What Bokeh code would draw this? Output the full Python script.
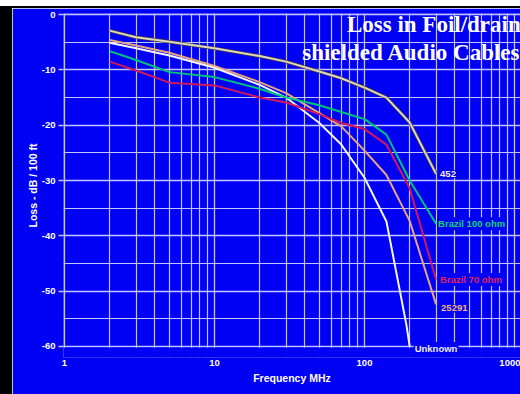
from bokeh.plotting import figure
from bokeh.models import FixedTicker, Range1d, Label, Spacer, BoxAnnotation
from bokeh.layouts import column, row
from bokeh.embed import file_html
from bokeh.resources import INLINE

# ---- data ----
freqs = [2, 3, 5, 10, 20, 30, 50, 70, 100, 140, 200, 300]
loss_452 = [-2.9, -4.1, -4.9, -6.1, -7.5, -8.5, -10.3, -11.5, -13.2, -15.0, -19.5, -28.8]
loss_brazil100 = [-6.6, -8.2, -10.4, -11.3, -13.4, -15.0, -16.4, -17.6, -18.9, -21.7, -30.0, -37.8]
loss_brazil70 = [-8.5, -10.1, -12.3, -12.8, -15.0, -15.9, -18.0, -19.6, -20.7, -23.5, -31.4, -47.9]
loss_25291 = [-4.6, -5.6, -6.9, -9.3, -12.2, -14.2, -17.8, -20.2, -24.6, -29.0, -37.3, -52.4]
freqs_unknown = [2, 3, 5, 10, 20, 30, 50, 70, 100, 140, 190, 200]
loss_unknown = [-5.1, -6.1, -7.4, -9.6, -12.7, -15.0, -19.6, -23.5, -29.5, -37.4, -56.0, -60.0]

series_names = ["452", "Brazil 100 ohm", "Brazil 70 ohm", "25291", "Unknown"]

x_major = [1, 10, 100, 1000]
x_minor = [2, 3, 4, 5, 6, 7, 8, 9, 20, 30, 40, 50, 60, 70, 80, 90,
           200, 300, 400, 500, 600, 700, 800, 900]
y_major = [0, -10, -20, -30, -40, -50, -60]
y_minor = [-5, -15, -25, -35, -45, -55]
x_tick_labels = ["1", "10", "100", "1000"]
y_tick_labels = ["0", "-10", "-20", "-30", "-40", "-50", "-60"]

title_lines = ["Loss in Foil/drain", "shielded Audio Cables"]

# ---- styling ----
BG = "#0000f5"
GRID = "#c4c4ff"
SANS = "Liberation Sans"

p = figure(width=508, height=386, x_axis_type="log",
           x_range=Range1d(0.985, 1096), y_range=Range1d(-62, 0.2),
           output_backend="svg", toolbar_location=None,
           min_border_left=51, min_border_right=0,
           min_border_top=5, min_border_bottom=37)
p.background_fill_color = BG
p.border_fill_color = BG
p.outline_line_color = None

xt = FixedTicker(ticks=x_major, minor_ticks=x_minor)
yt = FixedTicker(ticks=y_major, minor_ticks=y_minor)
p.xaxis.ticker = xt
p.yaxis.ticker = yt
p.xgrid.ticker = xt
p.ygrid.ticker = yt

for g in (p.xgrid, p.ygrid):
    g.grid_line_color = GRID
    g.grid_line_width = 1.3
    g.minor_grid_line_color = GRID
    g.minor_grid_line_width = 1.2

p.xaxis.major_label_overrides = {v: t for v, t in zip(x_major, x_tick_labels)}
p.yaxis.major_label_overrides = {v: t for v, t in zip(y_major, y_tick_labels)}

for ax in (p.xaxis, p.yaxis):
    ax.axis_line_color = None
    ax.major_tick_line_color = GRID
    ax.major_tick_line_width = 1.5
    ax.minor_tick_out = 0
    ax.minor_tick_in = 0
    ax.major_tick_in = 0
    ax.major_label_text_color = "white"
    ax.major_label_text_font = SANS
    ax.major_label_text_font_style = "bold"
    ax.major_label_text_font_size = "9.5px"
    ax.axis_label_text_color = "white"
    ax.axis_label_text_font = SANS
    ax.axis_label_text_font_style = "bold"
    ax.axis_label_text_font_size = "10.5px"

p.xaxis.major_tick_out = 0
p.xaxis.major_label_standoff = 2
p.xaxis.axis_label = "Frequency MHz"
p.xaxis.axis_label_standoff = 3

p.yaxis.major_tick_out = 5
p.yaxis.major_label_standoff = 3
p.yaxis.axis_label = "Loss - dB / 100 ft"
p.yaxis.axis_label_standoff = 0

# ---- curves ----
p.line(freqs, loss_452, line_color="#4a4036", line_width=3.4)
p.line(freqs, loss_452, line_color="#ddd6c0", line_width=2)
p.line(freqs, loss_25291, line_color="#e8a47c", line_width=2)
p.line(freqs_unknown, loss_unknown, line_color="#f4f4ff", line_width=2)
p.line(freqs, loss_brazil70, line_color="#d0185c", line_width=2)
p.line(freqs, loss_brazil100, line_color="#00c37c", line_width=2)

# mask below the -60 dB line so the grid stops there
p.add_layout(BoxAnnotation(top=-60.25, fill_color=BG, fill_alpha=1.0,
                           line_color=None))

# ---- end labels ----
ends = [
    (freqs[-1], loss_452[-1], series_names[0], "#f2ead0", 3, 0),
    (freqs[-1], loss_brazil100[-1], series_names[1], "#12d46e", 1, 0),
    (freqs[-1], loss_brazil70[-1], series_names[2], "#e02058", 3, 0),
    (freqs[-1], loss_25291[-1], series_names[3], "#f2b27a", 4, -4),
    (freqs_unknown[-1], loss_unknown[-1], series_names[4], "#ececff", 4, -2),
]
for fx, ly, name, col, dx, dy in ends:
    p.add_layout(Label(x=fx, y=ly, text=name, text_color=col,
                       text_font=SANS, text_font_style="bold",
                       text_font_size="9.5px", text_align="left",
                       text_baseline="middle", x_offset=dx, y_offset=dy,
                       background_fill_color=BG, padding=1))

# ---- title inside the plot ----
for line_txt, yb in zip(title_lines, [-1.85, -6.85]):
    p.add_layout(Label(x=1100, y=yb, text=line_txt, text_align="right",
                       text_baseline="alphabetic", text_color="white",
                       text_font="Liberation Serif", text_font_style="bold",
                       text_font_size="23px"))

top_white = Spacer(width=520, height=6)
top_black = Spacer(width=520, height=2, styles={"background-color": "black"})
left_black = Spacer(width=12, height=386, styles={"background-color": "black"})
layout = column(top_white, top_black, row(left_black, p, spacing=0), spacing=0)

open("out.html", "w").write(file_html(layout, INLINE))
